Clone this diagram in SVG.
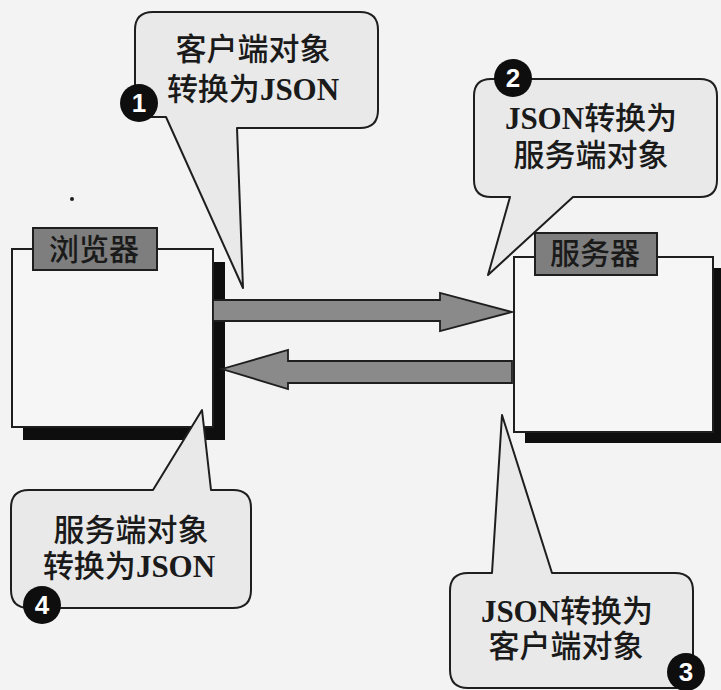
<svg xmlns="http://www.w3.org/2000/svg" width="721" height="690" viewBox="0 0 721 690">
  <style>
    .box { fill: #f6f6f6; stroke: #1e1e1e; stroke-width: 2; }
    .shadow { fill: #0e0e0e; }
    .label { fill: #7e7e7e; stroke: #1e1e1e; stroke-width: 2; }
    .labeltext { font-family: "Noto Sans CJK SC", sans-serif; font-size: 30px; font-weight: 500; fill: #1a1a1a; text-anchor: middle; }
    .arrow { fill: #8a8a8a; stroke: #1e1e1e; stroke-width: 1.8; stroke-linejoin: miter; }
    .bubble { fill: #e9e9e9; stroke: #1e1e1e; stroke-width: 2; stroke-linejoin: round; }
    .btext { font-family: "Liberation Serif", "Noto Sans CJK SC", serif; font-size: 31px; font-weight: 500; fill: #1a1a1a; text-anchor: middle; }
    .lat { font-weight: bold; }
    .badge { fill: #0e0e0e; }
    .num { font-family: "Liberation Sans", Arial, sans-serif; font-size: 26px; font-weight: bold; fill: #ffffff; text-anchor: middle; }
  </style>

  <rect x="0" y="0" width="721" height="690" fill="#f3f3f3"/>
  <circle cx="72" cy="199" r="2" fill="#1e1e1e"/>

  <g id="browser">
    <rect class="shadow" x="23" y="262" width="202" height="178"/>
    <rect class="box" x="12" y="249" width="201" height="178"/>
    <rect class="label" x="33" y="228" width="124" height="42"/>
    <text class="labeltext" x="94" y="260">浏览器</text>
  </g>

  <g id="server">
    <rect class="shadow" x="525" y="268" width="200" height="175"/>
    <rect class="box" x="514" y="257" width="199" height="175"/>
    <rect class="label" x="535" y="233" width="122" height="42"/>
    <text class="labeltext" x="595" y="264">服务器</text>
  </g>

  <g id="connectors">
    <polygon class="arrow" points="213,300 440,300 440,293 512,312 440,331 440,321 213,321"/>
    <polygon class="arrow" points="512,361 288,361 288,350 222,369 288,389 288,383 512,383"/>
  </g>

  <g id="callout1">
    <path class="bubble" d="M153,12 L360,12 Q378,12 378,30 L378,110 Q378,128 360,128 L237,128 L243,288 L166,117 L148,117 Q135,117 135,104 L135,30 Q135,12 153,12 Z"/>
    <text class="btext" x="253" y="60">客户端对象</text>
    <text class="btext" x="253" y="100">转换为<tspan class="lat">JSON</tspan></text>
    <circle class="badge" cx="139" cy="103" r="19"/>
    <text class="num" x="139" y="112">1</text>
  </g>

  <g id="callout2">
    <path class="bubble" d="M491,79 L700,79 Q717,79 717,96 L717,180 Q717,197 700,197 L573,197 L488,275 L510,197 L491,197 Q474,197 474,180 L474,96 Q474,79 491,79 Z"/>
    <text class="btext" x="591" y="129"><tspan class="lat">JSON</tspan>转换为</text>
    <text class="btext" x="591" y="166">服务端对象</text>
    <circle class="badge" cx="513" cy="78" r="19"/>
    <text class="num" x="513" y="87">2</text>
  </g>

  <g id="callout3">
    <path class="bubble" d="M468,573 L492,573 L502,415 L552,573 L675,573 Q693,573 693,591 L693,670 Q693,688 675,688 L468,688 Q450,688 450,670 L450,591 Q450,573 468,573 Z"/>
    <text class="btext" x="567" y="622"><tspan class="lat">JSON</tspan>转换为</text>
    <text class="btext" x="566" y="657">客户端对象</text>
    <circle class="badge" cx="686" cy="672" r="19"/>
    <text class="num" x="686" y="681">3</text>
  </g>

  <g id="callout4">
    <path class="bubble" d="M29,490 L153,490 L202,410 L211,490 L233,490 Q251,490 251,508 L251,590 Q251,608 233,608 L29,608 Q11,608 11,590 L11,508 Q11,490 29,490 Z"/>
    <text class="btext" x="131" y="541">服务端对象</text>
    <text class="btext" x="129" y="577">转换为<tspan class="lat">JSON</tspan></text>
    <circle class="badge" cx="42" cy="605" r="19"/>
    <text class="num" x="42" y="614">4</text>
  </g>
</svg>
